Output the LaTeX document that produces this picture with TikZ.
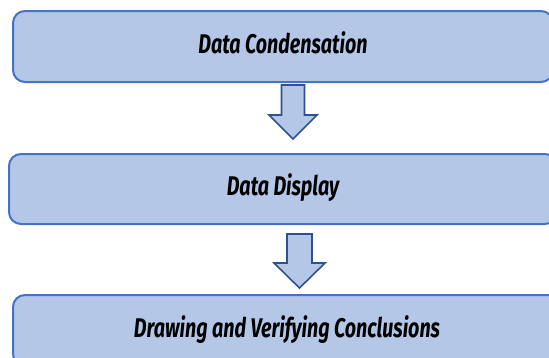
\documentclass[tikz,border=0pt]{standalone}
\usepackage{fontspec}
\newfontfamily\stagefont{Fira Sans}[FakeStretch=0.73]
\usepackage{tikz}

\definecolor{boxfill}{HTML}{B4C7E7}
\definecolor{boxline}{HTML}{4472C4}
\definecolor{arrowline}{HTML}{2F528F}

\tikzset{
    stage/.style={draw=boxline, line width=2pt, fill=boxfill, rounded corners=12pt,
        minimum height=71pt, inner sep=0pt, text height=19pt, text depth=6pt,
        font=\stagefont\bfseries\itshape\fontsize{27}{31}\selectfont},
    flowarrow/.style={draw=arrowline, line width=1.6pt, fill=boxfill, line join=miter}
}

\begin{document}
\begin{tikzpicture}[x=1pt,y=1pt]
    \useasboundingbox (0,0) rectangle (549,-357);
    \clip (0,0) rectangle (549,-357);

    % Stages
    \node[stage, minimum width=540pt] (cond) at (283,-46.5) {Data Condensation};
    \node[stage, minimum width=548pt, minimum height=70pt] (disp) at (283,-189) {Data Display};
    \node[stage, minimum width=548pt] (concl) at (287,-330.5) {Drawing and Verifying Conclusions};

    % Arrows
    \coordinate (a1) at (293,-85);
    \draw[flowarrow] (a1) ++(-11.5,0) -- ++(23,0) -- ++(0,-30) -- ++(12.5,0)
        -- ++(-24,-24) -- ++(-24,24) -- ++(12.5,0) -- cycle;
    \coordinate (a2) at (299.5,-234);
    \draw[flowarrow] (a2) ++(-12.5,0) -- ++(25,0) -- ++(0,-29) -- ++(13,0)
        -- ++(-25.5,-25) -- ++(-25.5,25) -- ++(13,0) -- cycle;
\end{tikzpicture}
\end{document}
